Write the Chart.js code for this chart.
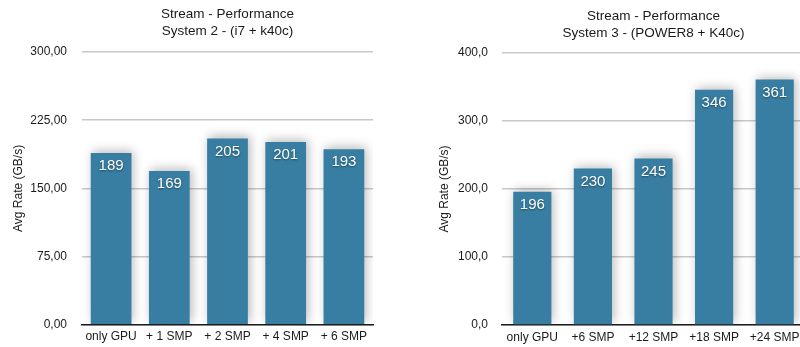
<!DOCTYPE html>
<html>
<head>
<meta charset="utf-8">
<script src="https://cdn.jsdelivr.net/npm/chart.js@4/dist/chart.umd.min.js"></script>
<style>
  html, body { margin: 0; padding: 0; background: #fff; overflow: hidden; }
  body { width: 800px; height: 347px; position: relative; }
  .panel { position: absolute; top: 0; height: 347px; }
  #left { left: 0; width: 400px; }
  #right { left: 400px; width: 410px; }
</style>
</head>
<body>
<div class="panel" id="left"><canvas id="c1" width="400" height="347"></canvas></div>
<div class="panel" id="right"><canvas id="c2" width="410" height="347"></canvas></div>
<script>
// System 2 (i7 + k40c)
const sys2Categories = ["only GPU", "+ 1 SMP", "+ 2 SMP", "+ 4 SMP", "+ 6 SMP"];
const sys2Rates = [189, 169, 205, 201, 193];
const sys2Ticks = [0, 75, 150, 225, 300];
const sys2Title = ["Stream - Performance", "System 2 - (i7 + k40c)"];

// System 3 (POWER8 + K40c)
const sys3Categories = ["only GPU", "+6 SMP", "+12 SMP", "+18 SMP", "+24 SMP"];
const sys3Rates = [196, 230, 245, 346, 361];
const sys3Ticks = [0, 100, 200, 300, 400];
const sys3Title = ["Stream - Performance", "System 3 - (POWER8 + K40c)"];

const yAxisLabel = "Avg Rate (GB/s)";
const FONT = '"Liberation Sans", Arial, Helvetica, sans-serif';
const BAR = "#377ea2";

// soft haze behind the bars
const barShadow = {
  id: "barShadow",
  beforeDatasetDraw(chart) {
    const ctx = chart.ctx;
    ctx.save();
    ctx.shadowColor = "rgba(0,0,0,0.28)";
    ctx.shadowBlur = 10;
    ctx.shadowOffsetX = 2;
    ctx.shadowOffsetY = -2;
  },
  afterDatasetDraw(chart) {
    chart.ctx.restore();
  }
};

// value written inside the top of each bar
const valueLabels = {
  id: "valueLabels",
  afterDatasetsDraw(chart) {
    const ctx = chart.ctx;
    const meta = chart.getDatasetMeta(0);
    const values = chart.data.datasets[0].data;
    ctx.save();
    ctx.font = "15px " + FONT;
    ctx.fillStyle = "#ffffff";
    ctx.textAlign = "center";
    ctx.textBaseline = "middle";
    ctx.shadowColor = "rgba(0,0,0,0.45)";
    ctx.shadowBlur = 2;
    ctx.shadowOffsetY = 1;
    meta.data.forEach((bar, i) => {
      ctx.fillText(String(values[i]), bar.x, bar.y + 13);
    });
    ctx.restore();
  }
};

// two-line heading centred over the plot area
const heading = {
  id: "heading",
  afterDraw(chart, args, opts) {
    const ctx = chart.ctx;
    const cx = (chart.chartArea.left + chart.chartArea.right) / 2;
    ctx.save();
    ctx.font = "13.5px " + FONT;
    ctx.fillStyle = "#1a1a1a";
    ctx.textAlign = "center";
    ctx.textBaseline = "middle";
    opts.lines.forEach((line, i) => ctx.fillText(line, cx, opts.top + i * 17));
    ctx.restore();
  }
};

function makeChart(id, cfg) {
  return new Chart(document.getElementById(id), {
    type: "bar",
    data: {
      labels: cfg.categories,
      datasets: [{
        data: cfg.values,
        backgroundColor: BAR,
        borderWidth: 0,
        barPercentage: cfg.barPct,
        categoryPercentage: 1
      }]
    },
    options: {
      responsive: false,
      animation: false,
      events: [],
      layout: { padding: { top: cfg.padTop, right: cfg.padRight, left: 0, bottom: 0 } },
      plugins: {
        legend: { display: false },
        tooltip: { enabled: false },
        title: { display: false },
        heading: { lines: cfg.title, top: cfg.titleTop }
      },
      scales: {
        x: {
          grid: { display: false, drawTicks: false },
          border: { display: true, color: "#1e1e1e", width: 1.5 },
          ticks: { color: "#1a1a1a", font: { family: FONT, size: 12 }, padding: 5, maxRotation: 0, autoSkip: false },
          afterFit(scale) { scale.height = 22; }
        },
        y: {
          min: 0,
          max: cfg.ticks[cfg.ticks.length - 1],
          afterBuildTicks(scale) { scale.ticks = cfg.ticks.map(v => ({ value: v })); },
          grid: { color: "#c8c8c8", lineWidth: 1.5, drawTicks: false },
          border: { display: false },
          ticks: {
            color: "#1a1a1a",
            font: { family: FONT, size: 12 },
            padding: cfg.tickPad,
            callback: v => v.toFixed(cfg.decimals).replace(".", ",")
          },
          title: {
            display: true,
            text: yAxisLabel,
            color: "#1a1a1a",
            font: { family: FONT, size: 12 },
            padding: { top: cfg.titlePad, bottom: 0 }
          },
          afterFit(scale) { scale.width = cfg.axisWidth; }
        }
      }
    },
    plugins: [barShadow, valueLabels, heading]
  });
}

makeChart("c1", {
  categories: sys2Categories, values: sys2Rates, ticks: sys2Ticks, title: sys2Title,
  decimals: 2, barPct: 0.7, padTop: 52, padRight: 27, axisWidth: 82,
  tickPad: 15, titlePad: 11, titleTop: 14
});

makeChart("c2", {
  categories: sys3Categories, values: sys3Rates, ticks: sys3Ticks, title: sys3Title,
  decimals: 1, barPct: 0.63, padTop: 53, padRight: 5, axisWidth: 102,
  tickPad: 14, titlePad: 37, titleTop: 16
});
</script>
</body>
</html>
